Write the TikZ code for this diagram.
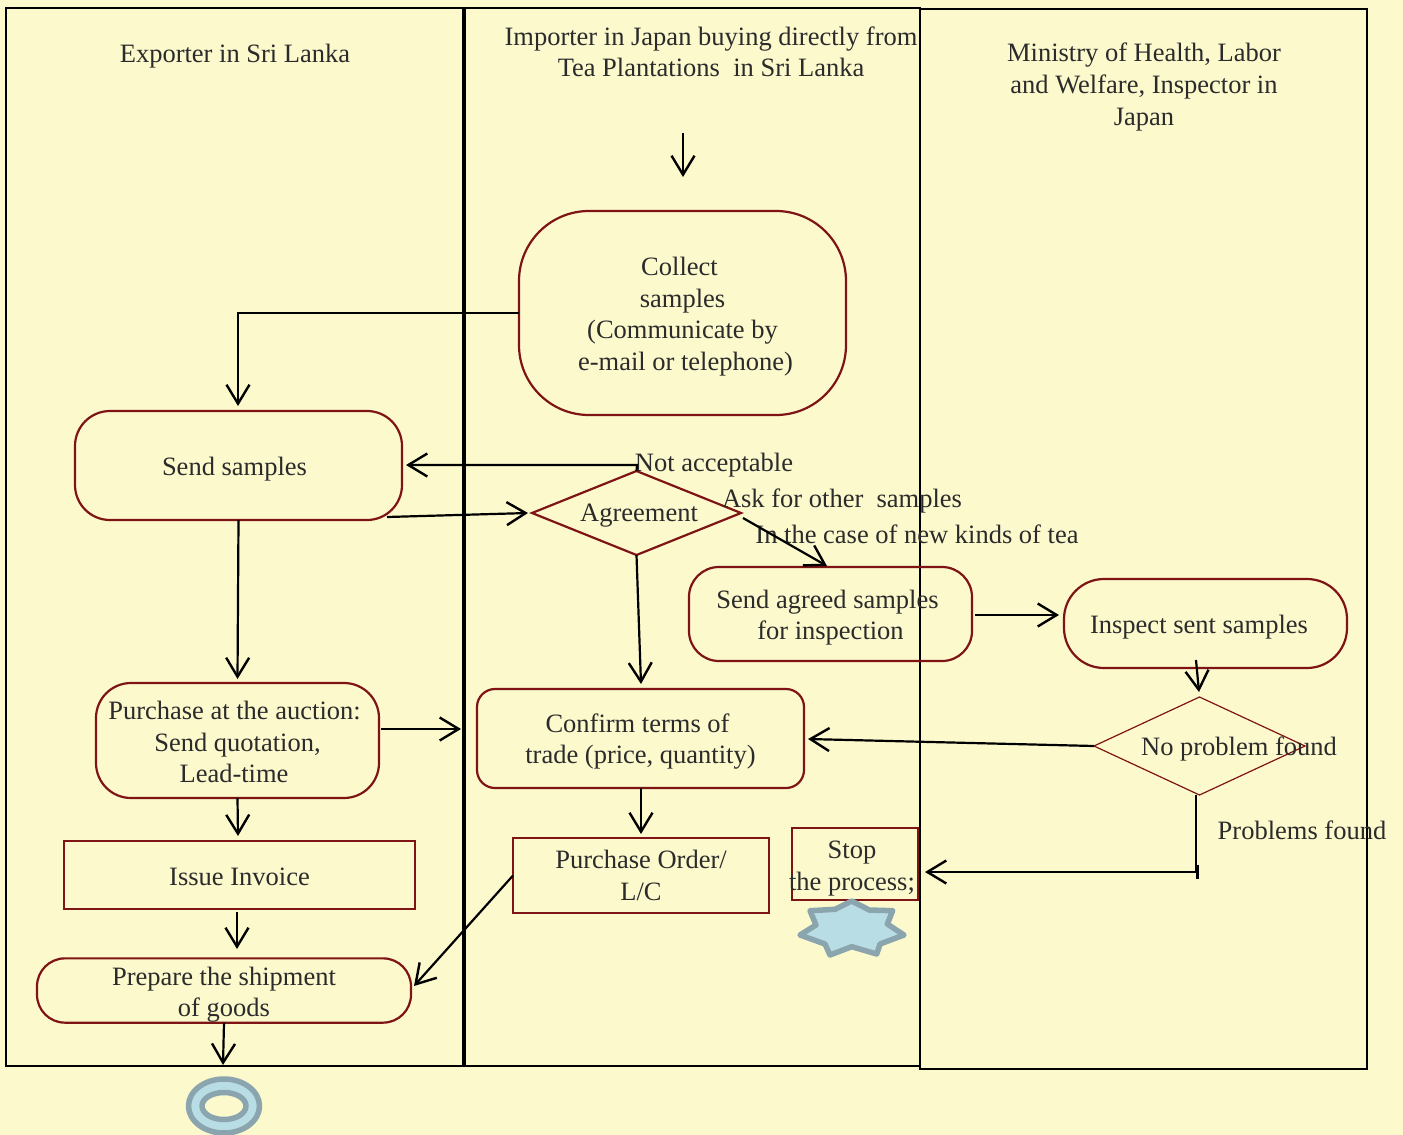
\documentclass[tikz,border=0pt]{standalone}
\usepackage{fontspec}
\setmainfont{Liberation Serif}
\usetikzlibrary{arrows.meta,shapes.geometric}
\definecolor{bgc}{HTML}{FCF9CD}
\definecolor{redc}{HTML}{7F1414}
\definecolor{txtc}{HTML}{2B2B2B}
\definecolor{ringc}{HTML}{8AA5AE}
\definecolor{fillc}{HTML}{B9DDE5}
\newcommand\dn[1]{\rule{0pt}{\dimexpr18pt+2\dimexpr#1pt\relax\relax}}
\newcommand\rs[1]{\hspace{#1pt}\mbox{}}
\tikzset{
  lane/.style={draw=black,line width=2pt,rectangle,inner sep=0,outer sep=0},
  rbox/.style={draw=redc,line width=2.2pt,rectangle,inner sep=0,outer sep=0,align=center,text=txtc},
  flat/.style={rbox},
  dia/.style={draw=redc,line width=2.2pt,diamond,aspect=2.5,inner sep=0,outer sep=0,align=center,text=txtc},
  lbl/.style={text=txtc,align=center,inner sep=0,outer sep=0},
  conn/.style={draw=black,line width=2.2pt,-{Straight Barb[length=19pt,width=23pt,line width=2.4pt]}},
  plain/.style={draw=black,line width=2.2pt},
  deco/.style={draw=ringc,line width=5.5pt,line join=round},
}
\begin{document}
\begin{tikzpicture}[x=1pt,y=-1pt,font=\fontsize{26.5}{31.6}\selectfont]
\useasboundingbox[fill=bgc] (0,0) rectangle (1403,1135);
% swimlanes
\node[lane,minimum width=457pt,minimum height=1058pt] (laneA) at (234.5,537) {};
\node[lane,minimum width=455pt,minimum height=1058pt] (laneB) at (692.5,537) {};
\node[lane,minimum width=447pt,minimum height=1060pt] (laneC) at (1143.5,539) {};
% headings
\node[lbl] (hA) at (235,56) {Exporter in Sri Lanka};
\node[lbl] (hB) at (711,51.5) {Importer in Japan buying directly from\\[-0.6pt]Tea Plantations\ \ in Sri Lanka};
\node[lbl] (hC) at (1144,87) {Ministry of Health, Labor\\and Welfare, Inspector in\\Japan};
% activity nodes
\node[rbox,rounded corners=70pt,minimum width=327pt,minimum height=204pt] (collect) at (682.5,313) {\dn{4}Collect\rs{6}\\samples\\(Communicate by\\\hspace{6pt}e-mail or telephone)};
\node[rbox,rounded corners=35pt,minimum width=327pt,minimum height=109pt] (send) at (238.5,465.5) {\dn{4}Send samples\rs{8}};
\node[dia,minimum width=209pt,minimum height=84pt] (agree) at (636.5,513) {\dn{2}\hspace{5pt}Agreement};
\node[rbox,rounded corners=30pt,minimum width=283pt,minimum height=94pt] (agreed) at (830.5,614) {\dn{4}Send agreed samples\rs{6}\\for inspection};
\node[rbox,rounded corners=40pt,minimum width=283pt,minimum height=89pt] (inspect) at (1205.5,623.5) {\dn{4}Inspect sent samples\rs{13}};
\node[draw=redc,line width=1.2pt,diamond,aspect=2.1,inner sep=0,outer sep=0,minimum width=211pt,minimum height=98pt] (noprob) at (1199.5,746) {};
\node[lbl] (noprobT) at (1239,749) {No problem found};
\node[rbox,rounded corners=35pt,minimum width=283pt,minimum height=115pt] (auction) at (237.5,740.5) {\dn{2}Purchase at the auction:\rs{6}\\Send quotation,\\Lead-time\rs{7}};
\node[rbox,rounded corners=18pt,minimum width=327pt,minimum height=99pt] (confirm) at (640.5,738.5) {\dn{3.5}Confirm terms of\rs{6}\\trade (price, quantity)};
\node[flat,minimum width=351pt,minimum height=68pt] (invoice) at (239.5,875) {\dn{2}Issue Invoice};
\node[flat,minimum width=256pt,minimum height=75pt] (po) at (641,875.5) {Purchase Order/\\L/C};
\node[flat,minimum width=126pt,minimum height=72pt] (stop) at (855,864) {};
\node[lbl] (stopT) at (852,868.5) {Stop\\the process;};
\node[rbox,rounded corners=28pt,minimum width=374pt,minimum height=63pt] (prep) at (224,990.5) {\dn{4.5}Prepare the shipment\\of goods};
% terminators
\path[deco,fill=fillc] (851.7,901) -- (869.3,910) -- (892.7,910.7) -- (887.3,924) -- (904,935) -- (880,944) -- (876.7,954) -- (851.7,946.7) -- (830,955) -- (825,944) -- (800,935) -- (816,925) -- (810,910.7) -- (835,909.3) -- cycle;
\node[deco,fill=fillc,ellipse,minimum width=71pt,minimum height=54pt,inner sep=0,outer sep=0] (endA) at (224,1106) {};
\node[deco,fill=bgc,ellipse,minimum width=44pt,minimum height=27pt,inner sep=0,outer sep=0] (endB) at (224,1106) {};
% free labels
\node[lbl] (l1) at (714,465) {Not acceptable};
\node[lbl] (l2) at (842,501) {Ask for other\ \ samples};
\node[lbl] (l3) at (917,534) {In the case of new kinds of tea};
\node[lbl] (l4) at (1302,830) {Problems found};
% free connector ends
\coordinate (start) at (683,133);
\coordinate (startE) at (683,177);
\coordinate (sendOut) at (387,517);
\coordinate (agreeIn) at (528,513);
\coordinate (agreeOut) at (743,518);
\coordinate (agreedIn) at (827,566);
\coordinate (agreedOut) at (975,615);
\coordinate (inspIn) at (1059,615);
\coordinate (inspOut) at (1196,660);
\coordinate (npIn) at (1199,692);
\coordinate (aucOut) at (381,729);
\coordinate (confIn) at (461,729);
\coordinate (confIn2) at (808,739);
\coordinate (stopIn) at (925,872);
\coordinate (corner) at (1196,872);
% connectors
\draw[conn] (start) -- (startE);
\draw[conn] (collect.west) -- (238,313) -- (238,406);
\draw[conn] (agree.north) -- (637,465) -- (406,465);
\draw[conn] (sendOut) -- (agreeIn);
\draw[conn] (agreeOut) -- (agreedIn);
\draw[conn] (238.5,520) -- (237.5,679);
\draw[conn] (agree.south) -- (641,684);
\draw[conn] (agreedOut) -- (inspIn);
\draw[conn] (inspOut) -- (npIn);
\draw[conn] (aucOut) -- (confIn);
\draw[conn] (noprob.west) -- (confIn2);
\draw[conn] (auction.south) -- (238,836);
\draw[conn] (641,788) -- (po.north |- 0,834);
\draw[conn] (237,912) -- (237,949);
\draw[conn] (po.west) -- (414,986);
\draw[conn] (prep.south) -- (223,1065);
\draw[conn] (1196,795) -- (corner) -- (stopIn);
\draw[plain] (1197.5,865) -- (1197.5,879);
\end{tikzpicture}
\end{document}
